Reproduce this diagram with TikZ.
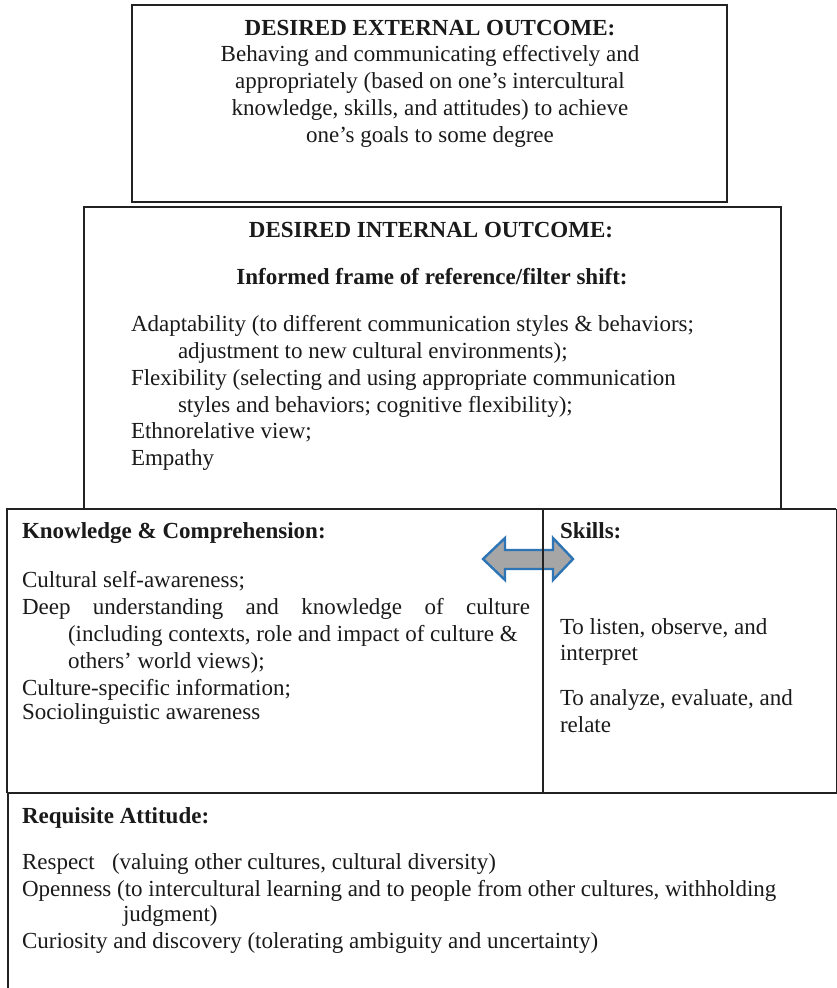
\documentclass[tikz,border=0pt]{standalone}
\usepackage{fontspec}
\setmainfont{Liberation Serif}
\definecolor{edge}{HTML}{222222}
\definecolor{ink}{HTML}{1A1A1A}
\definecolor{arrowfill}{HTML}{A6A6A6}
\definecolor{arrowline}{HTML}{2E75B6}
\begin{document}
\begin{tikzpicture}[x=1pt,y=-1pt,
  frame/.style={draw=edge,line width=1.6pt,line join=miter},
  txt/.style={inner sep=0pt,outer sep=0pt,text=ink,font=\fontsize{23}{27}\selectfont},
  lw/.style={txt,anchor=base west},
  ctr/.style={txt,anchor=base}]
\useasboundingbox[fill=white] (0,0) rectangle (837,988);
% boxes
\draw[frame] (132,5) rectangle (727,202);
\draw[frame] (84,509) -- (84,207) -- (781,207) -- (781,509);
% arrow (under divider)
\draw[fill=arrowfill,draw=arrowline,line width=2.4pt,line join=miter]
  (483,559) -- (505,538) -- (505,550) -- (553,550) -- (553,538) -- (573,559)
  -- (553,580) -- (553,569) -- (505,569) -- (505,580) -- cycle;
\draw[frame] (7,793) -- (7,509) -- (836,509);
\draw[draw=edge,line width=0.8pt] (836,509) -- (836,793);
\draw[frame] (543,509) -- (543,793);
\draw[frame] (7,793) -- (837,793);
\draw[frame] (8,793) -- (8,988);
% external outcome
\node[ctr,font=\fontsize{23}{27}\selectfont\bfseries] (t1) at (430,35) {DESIRED EXTERNAL OUTCOME:};
\node[ctr] (t2) at (430,61) {Behaving and communicating effectively and};
\node[ctr] (t3) at (430,88) {appropriately (based on one’s intercultural};
\node[ctr] (t4) at (430,115) {knowledge, skills, and attitudes) to achieve};
\node[ctr] (t5) at (430,142) {one’s goals to some degree};
% internal outcome
\node[ctr,font=\fontsize{23}{27}\selectfont\bfseries] (i1) at (431,237) {DESIRED INTERNAL OUTCOME:};
\node[ctr,font=\fontsize{23}{27}\selectfont\bfseries] (i2) at (432,284) {Informed frame of reference/filter shift:};
\node[lw] (i3) at (131,331) {Adaptability (to different communication styles \& behaviors;};
\node[lw] (i4) at (178,358) {adjustment to new cultural environments);};
\node[lw] (i5) at (131,385) {Flexibility (selecting and using appropriate communication};
\node[lw] (i6) at (178,412) {styles and behaviors; cognitive flexibility);};
\node[lw] (i7) at (131,438) {Ethnorelative view;};
\node[lw] (i8) at (131,465) {Empathy};
% knowledge
\node[lw,font=\fontsize{23}{27}\selectfont\bfseries] (k1) at (22,538) {Knowledge \& Comprehension:};
\node[lw] (k2) at (22,587) {Cultural self-awareness;};
\node[lw] (k3) at (22,614) {\makebox[508pt][s]{Deep understanding and knowledge of culture}};
\node[lw] (k4) at (68,641) {(including contexts, role and impact of culture \&};
\node[lw] (k5) at (68,668) {others’ world views);};
\node[lw] (k6) at (22,695) {Culture-specific information;};
\node[lw] (k7) at (22,719) {Sociolinguistic awareness};
% skills
\node[lw,font=\fontsize{23}{27}\selectfont\bfseries] (s1) at (560,538) {Skills:};
\node[lw] (s2) at (560,634) {To listen, observe, and};
\node[lw] (s3) at (560,660) {interpret};
\node[lw] (s4) at (560,705) {To analyze, evaluate, and};
\node[lw] (s5) at (560,732) {relate};
% attitude
\node[lw,font=\fontsize{23}{27}\selectfont\bfseries] (a1) at (22,823) {Requisite Attitude:};
\node[lw] (a2) at (22,869) {Respect\ \ \ (valuing other cultures, cultural diversity)};
\node[lw] (a3) at (22,896) {Openness (to intercultural learning and to people from other cultures, withholding};
\node[lw] (a4) at (123,921) {judgment)};
\node[lw] (a5) at (22,948) {Curiosity and discovery (tolerating ambiguity and uncertainty)};
\end{tikzpicture}
\end{document}
